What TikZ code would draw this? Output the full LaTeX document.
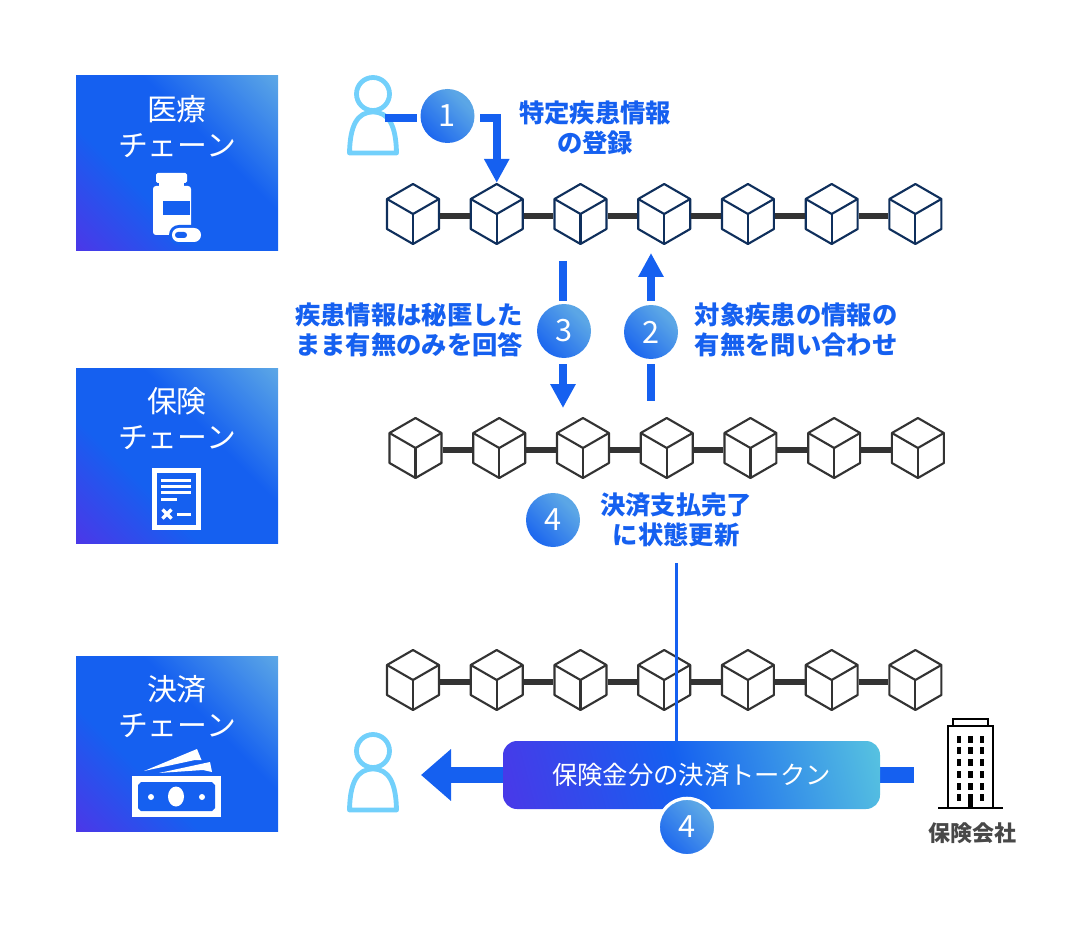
\documentclass[tikz,border=0pt]{standalone}
\usepackage{fontspec}
\setmainfont{Noto Sans CJK JP}
\usetikzlibrary{positioning, arrows.meta, shapes.geometric}
\definecolor{flowblue}{HTML}{1560F0}
\definecolor{navy}{HTML}{0F2F5C}
\definecolor{linkgray}{HTML}{333333}
\definecolor{labelgray}{HTML}{484848}
\definecolor{skyline}{HTML}{72D0FB}
\definecolor{gradpurple}{HTML}{4A38E8}
\definecolor{gradsky}{HTML}{5BA6E6}
\definecolor{gradcyan}{HTML}{58C4E0}
\pgfdeclarehorizontalshading{panelshade}{100bp}{color(0bp)=(gradpurple); color(15bp)=(gradpurple); color(38bp)=(flowblue); color(60bp)=(flowblue); color(85bp)=(gradsky); color(100bp)=(gradsky)}
\pgfdeclarehorizontalshading{tokenshade}{100bp}{color(0bp)=(gradpurple); color(19bp)=(gradpurple); color(48bp)=(flowblue); color(81bp)=(gradcyan); color(100bp)=(gradcyan)}
\pgfdeclarehorizontalshading{numshade}{100bp}{color(0bp)=(flowblue); color(20bp)=(flowblue); color(70bp)=(gradsky); color(100bp)=(gradsky)}
\tikzset{
  panel/.style={rectangle, minimum width=151.5pt, minimum height=131.25pt, inner sep=0pt, shading=panelshade, shading angle=45},
  paneltext/.style={text=white, font=\fontsize{22.4pt}{27pt}\selectfont, align=center},
  cube/.style={regular polygon, regular polygon sides=6, shape border rotate=30, minimum size=45pt, inner sep=0pt, draw=#1, line width=1.6pt, line join=round,
    append after command={(\tikzlastnode.center) edge[draw=#1, line width=1.6pt] ++(0,-22.5pt)
      (\tikzlastnode.center) edge[draw=#1, line width=1.6pt] ++(19.5pt,11.25pt)
      (\tikzlastnode.center) edge[draw=#1, line width=1.6pt] ++(-19.5pt,11.25pt)}},
  link/.style={draw=linkgray, line width=4.5pt},
  num/.style={circle, minimum size=40.5pt, inner sep=0pt, shading=numshade, shading angle=45, text=white, font=\fontsize{23pt}{23pt}\selectfont},
  flow/.style={draw=flowblue, line width=6pt},
  flowtip/.style={flow, -{Triangle[width=18pt, length=18pt]}},
  bigflow/.style={draw=flowblue, line width=12pt, -{Triangle[width=37.5pt, length=22.5pt]}},
  note/.style={text=flowblue, font=\fontsize{19pt}{22.6pt}\selectfont\bfseries, align=center},
  token/.style={rectangle, rounded corners=10.5pt, minimum width=282.75pt, minimum height=51pt, inner sep=0pt, shading=tokenshade, shading angle=15, text=white, font=\fontsize{19pt}{22.5pt}\selectfont},
  iconnode/.style={inner sep=0pt, minimum size=1pt},
  pers/.style={draw=skyline, line width=3.6pt, line join=round},
}
\newcommand{\personicon}[2]{%
  \draw [pers] (#1,#2-22) circle (16.5);
  \draw [pers] (#1-23.5,#2+37) .. controls (#1-23,#2+10) and (#1-16,#2-4) .. (#1,#2-4) .. controls (#1+16,#2-4) and (#1+23,#2+10) .. (#1+23.5,#2+37) -- cycle;
}
\begin{document}
\begin{tikzpicture}[x=0.75pt, y=-0.75pt, node distance=62.8pt]
  \useasboundingbox (0,0) rectangle (1086,938);

  % left panels
  \node (medpanel) [panel] at (177,163.5) {};
  \node (inspanel) [panel] at (177,455.5) {};
  \node (paypanel) [panel] at (177,743.5) {};
  \node (medtext) [paneltext] at (177,127) {医療\\チェーン};
  \node (instext) [paneltext] at (177,419) {保険\\チェーン};
  \node (paytext) [paneltext] at (177,707) {決済\\チェーン};

  % bottle icon
  \fill [white, rounded corners=1.2pt] (156,173) rectangle (187,183);
  \fill [white] (159,182) rectangle (184,187);
  \fill [white, rounded corners=2.2pt] (153,186) rectangle (191,235);
  \fill [flowblue] (163,201) rectangle (190,215);
  \fill [flowblue, rounded corners=7.4pt] (169,225) rectangle (204,245);
  \fill [white, rounded corners=5.2pt] (172,228) rectangle (201,242);
  \fill [flowblue, rounded corners=2.2pt] (175,232) rectangle (187,238);

  % document icon
  \draw [white, line width=3.6pt] (154.5,470.5) rectangle (198.5,527.5);
  \foreach \y/\xend in {480/191, 486/191, 492/191, 499/177}
    \fill [white] (161,\y-1.5) rectangle (\xend,\y+1.5);
  \draw [white, line width=2.6pt] (162.5,509.5) -- (171.5,518.5);
  \draw [white, line width=2.6pt] (171.5,509.5) -- (162.5,518.5);
  \fill [white] (177,512.5) rectangle (191,515.5);

  % money icon
  \fill [white] (144,771) -- (197,749) -- (201.5,760) -- (195,760) -- cycle;
  \fill [white] (159,773) -- (210,762) -- (212,772) -- (203,770) -- cycle;
  \fill [white] (132,776) rectangle (221,817);
  \fill [flowblue] (141,782) -- (212,782) -- (215,785) -- (215,808) -- (212,811) -- (141,811) -- (138,808) -- (138,785) -- cycle;
  \fill [white] (176,796.5) ellipse (8 and 10);
  \fill [white] (151,797) circle (3);
  \fill [white] (202,797) circle (3);

  % medical chain
  \node (m1) [cube=navy] at (413,214) {};
  \node (m2) [cube=navy, right of=m1] {};
  \node (m3) [cube=navy, right of=m2] {};
  \node (m4) [cube=navy, right of=m3] {};
  \node (m5) [cube=navy, right of=m4] {};
  \node (m6) [cube=navy, right of=m5] {};
  \node (m7) [cube=navy, right of=m6] {};

  % insurance chain
  \node (i1) [cube=linkgray] at (415.5,448) {};
  \node (i2) [cube=linkgray, right of=i1] {};
  \node (i3) [cube=linkgray, right of=i2] {};
  \node (i4) [cube=linkgray, right of=i3] {};
  \node (i5) [cube=linkgray, right of=i4] {};
  \node (i6) [cube=linkgray, right of=i5] {};
  \node (i7) [cube=linkgray, right of=i6] {};

  % payment chain
  \node (p1) [cube=linkgray] at (413,680) {};
  \node (p2) [cube=linkgray, right of=p1] {};
  \node (p3) [cube=linkgray, right of=p2] {};
  \node (p4) [cube=linkgray, right of=p3] {};
  \node (p5) [cube=linkgray, right of=p4] {};
  \node (p6) [cube=linkgray, right of=p5] {};
  \node (p7) [cube=linkgray, right of=p6] {};

  % links sit a little under the cube centres
  \foreach \c in {m,i,p}
    \foreach \a/\b in {1/2,2/3,3/4,4/5,5/6,6/7}
      \draw [link] ([yshift=-1.5pt]\c\a.east) -- ([yshift=-1.5pt]\c\b.west);

  % step 1
  \personicon{373}{116}
  \node (user1) [iconnode] at (385,118) {};
  \node (num1) [num] at (447.5,116) {1};
  \coordinate (out1) at (417,118);
  \coordinate (out1b) at (480,118);
  \draw [flow] (user1.center) -- (out1);
  \draw [flowtip] (out1b) -| (m2.north);
  \node (note1) [note] at (595,128) {特定疾患情報\\の登録};

  % steps 2 and 3
  \node (num3) [num] at (564,331) {3};
  \node (num2) [num] at (651,332) {2};
  \coordinate (top3) at (563,261);
  \coordinate (mid3a) at (563,301);
  \coordinate (mid3b) at (563,364);
  \coordinate (end3) at (563,408);
  \draw [flow] (top3) -- (mid3a);
  \draw [flowtip] (mid3b) -- (end3);
  \coordinate (top2) at (651,253);
  \coordinate (mid2a) at (651,301);
  \coordinate (mid2b) at (651,364);
  \coordinate (end2) at (651,401);
  \draw [flowtip] (mid2a) -- (top2);
  \draw [flow] (mid2b) -- (end2);
  \node (note3) [note] at (409,330) {疾患情報は秘匿した\\まま有無のみを回答};
  \node (note2) [note] at (796,330) {対象疾患の情報の\\有無を問い合わせ};

  % step 4
  \node (num4) [num] at (553,520) {4};
  \node (note4) [note] at (676,520) {決済支払完了\\に状態更新};

  % token
  \personicon{373}{773}
  \coordinate (bldgout) at (914,775);
  \coordinate (tip) at (421,775);
  \draw [bigflow] (bldgout) -- (tip);
  \coordinate (linetop) at (676.5,563);
  \node (token) [token] at (691.5,775) {保険金分の決済トークン};
  \draw [draw=flowblue, line width=1.9pt] (linetop) -- (linetop |- token.north);
  \node (num5) [num, draw=white, line width=2.4pt, minimum size=43pt] at (687,827) {4};

  % building
  \draw [black, line width=1.5pt] (953,726) -- (953,719) -- (988,719) -- (988,726);
  \draw [black, line width=1.5pt] (948,807) -- (948,726) -- (993,726) -- (993,807);
  \draw [black, line width=1.5pt] (938,807.5) -- (1003,807.5);
  \foreach \y in {739,750.5,762,774,786}
    \foreach \x in {959,970.5,982}
      \fill [black] (\x-2.2,\y-3.5) rectangle (\x+2.2,\y+3.5);
  \fill [black] (956.8,794) rectangle (961.2,801);
  \fill [black] (979.8,794) rectangle (984.2,801);
  \fill [black] (968,794) rectangle (973,807);
  \node (bldgtext) [text=labelgray, font=\fontsize{16.5pt}{20pt}\selectfont\bfseries] at (972,833) {保険会社};
\end{tikzpicture}
\end{document}
